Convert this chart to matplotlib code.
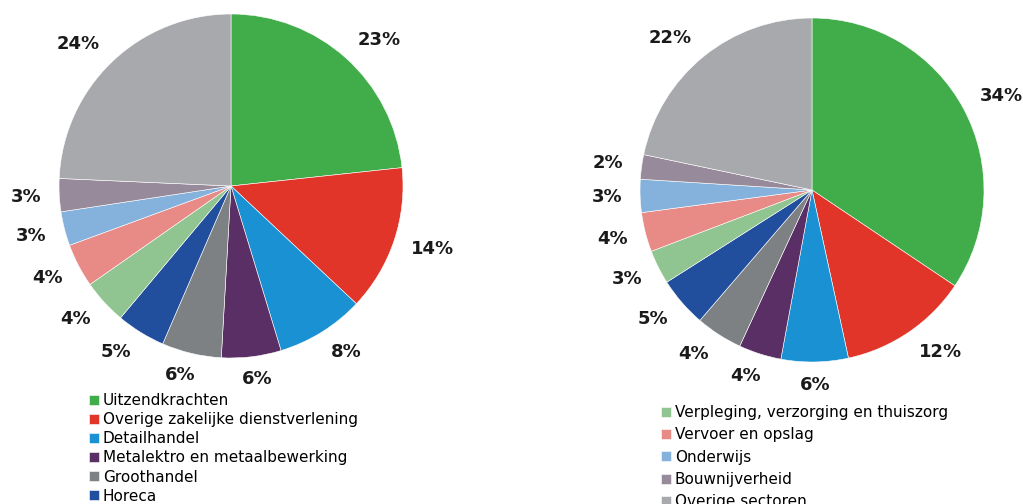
import numpy as np
import matplotlib
matplotlib.use("Agg")
from matplotlib import pyplot as plt
from matplotlib.transforms import offset_copy

# sectors, same order in both pies (clockwise from 12 o'clock)
sectors = ["Uitzendkrachten", "Overige zakelijke dienstverlening", "Detailhandel",
           "Metalektro en metaalbewerking", "Groothandel", "Horeca",
           "Verpleging, verzorging en thuiszorg", "Vervoer en opslag", "Onderwijs",
           "Bouwnijverheid", "Overige sectoren"]
# shares in % (labels show them rounded)
left_values = [23.3, 13.7, 8.3, 5.6, 5.6, 4.6, 4.2, 4.1, 3.2, 3.1, 24.3]
right_values = [34.4, 12.2, 6.3, 4.0, 4.4, 4.7, 3.2, 3.7, 3.1, 2.3, 21.7]
colors = ["#41AD4A", "#E1352A", "#1A91D3", "#5A2F65", "#7E8184", "#214F9D",
          "#90C490", "#E88A86", "#85B2DD", "#978A9A", "#A8A9AD"]

W, H = 1023, 504
fig = plt.figure(figsize=(W / 100, H / 100), dpi=100)
plt.rcParams['font.family'] = ['DejaVu Sans']
renderer = fig.canvas.get_renderer()


#one pie in an axes placed by its pixel centre and radius, labels set outside like Excel does
def draw_pie(values, cx, cy, r):
    ax = fig.add_axes([(cx - r) / W, (H - cy - r) / H, 2 * r / W, 2 * r / H])
    wedges, _ = ax.pie(values, colors=colors, startangle=90, counterclock=False,
                       wedgeprops=dict(edgecolor="white", linewidth=0.4))
    ax.set_xlim(-1, 1)
    ax.set_ylim(-1, 1)
    ax.set_aspect("equal")
    for w, v in zip(wedges, values):
        ang = np.deg2rad((w.theta1 + w.theta2) / 2)
        c, s = np.cos(ang), np.sin(ang)
        t = ax.text(1.105 * c, 1.105 * s, f"{v:.0f}%", ha="center", va="center",
                    fontsize=13, fontweight="bold", color="#1a1a1a", clip_on=False)
        # push the label outwards by up to half its width (and a bit of its height)
        bb = t.get_window_extent(renderer)
        dx = bb.width / 2 * np.clip(c / 0.5, -1, 1) * 0.72
        dy = bb.height / 4 * np.clip(s / 0.5, -1, 1) * 0.72
        t.set_transform(offset_copy(ax.transData, fig, x=dx, y=dy, units="points"))
    return wedges


left_wedges = draw_pie(left_values, 231, 186, 172)
right_wedges = draw_pie(right_values, 812, 190, 172)

fig.legend(left_wedges[:6], sectors[:6], loc="upper left",
           bbox_to_anchor=(89 / W, 1 - 393 / H), frameon=False, fontsize=11,
           handlelength=0.65, handleheight=0.65, handletextpad=0.25,
           labelspacing=0.27, borderpad=0, borderaxespad=0)
fig.legend(right_wedges[6:], sectors[6:], loc="upper left",
           bbox_to_anchor=(661 / W, 1 - 405 / H), frameon=False, fontsize=11,
           handlelength=0.65, handleheight=0.65, handletextpad=0.25,
           labelspacing=0.48, borderpad=0, borderaxespad=0)

fig.savefig("out.png", dpi=100)
